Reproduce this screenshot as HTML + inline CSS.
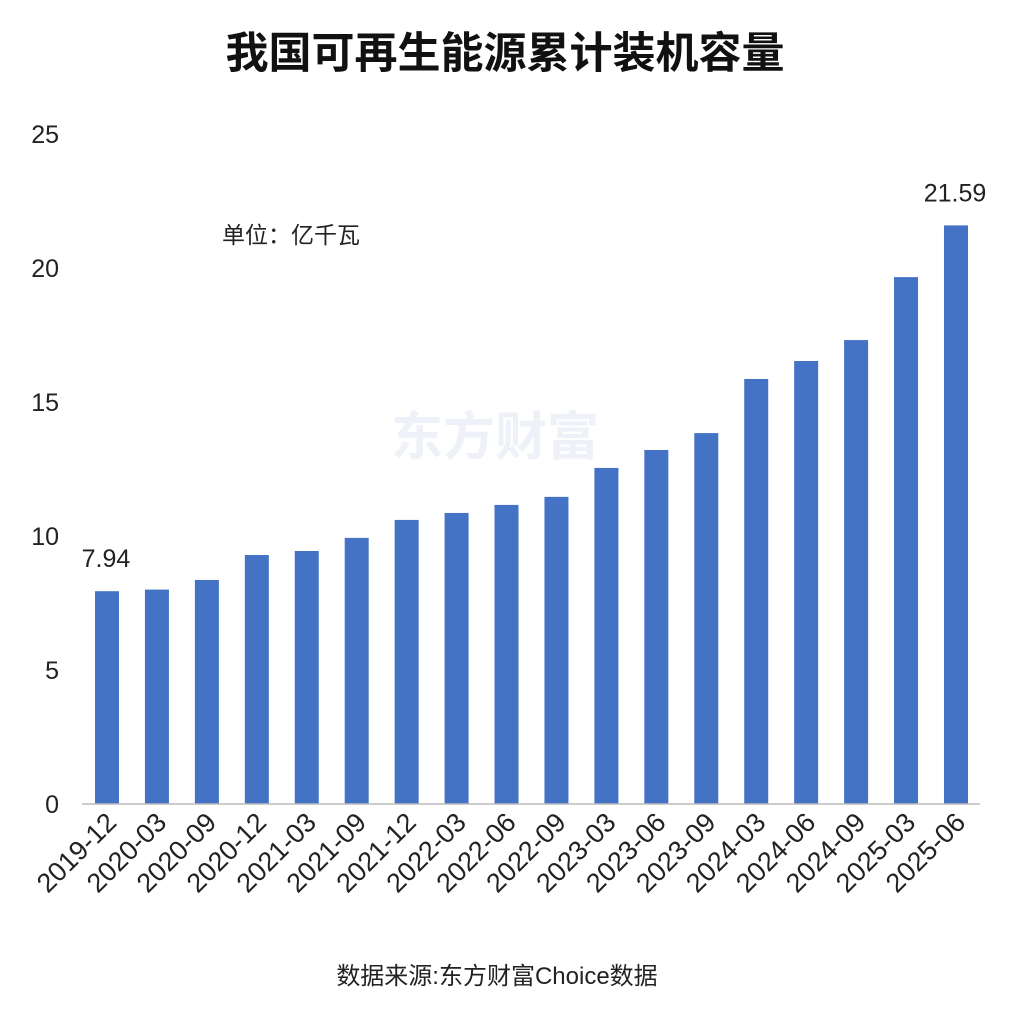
<!DOCTYPE html>
<html><head><meta charset="utf-8">
<style>
body{margin:0;background:#fff;}
svg text{font-family:"Liberation Sans","Noto Sans CJK SC",sans-serif;}
</style></head>
<body>
<svg width="1010" height="1028" viewBox="0 0 1010 1028" xmlns="http://www.w3.org/2000/svg">
<rect width="1010" height="1028" fill="#fff"/>
<text x="505" y="68" text-anchor="middle" font-size="43" font-weight="bold" fill="#111">我国可再生能源累计装机容量</text>
<text x="222" y="243" font-size="23" fill="#222">单位：亿千瓦</text>
<text x="495" y="455" text-anchor="middle" font-size="52" font-weight="bold" fill="#eef2f8">东方财富</text>
<g id="yaxis"></g>
<g id="bars"></g>
<g id="xlabels"></g>
<line x1="82" y1="804" x2="980" y2="804" stroke="#bbb" stroke-width="1.5"/>
<text x="497" y="984" text-anchor="middle" font-size="24" fill="#222">数据来源:东方财富Choice数据</text>
</svg>
<script>
const categories=["2019-12","2020-03","2020-09","2020-12","2021-03","2021-09","2021-12","2022-03","2022-06","2022-09","2023-03","2023-06","2023-09","2024-03","2024-06","2024-09","2025-03","2025-06"];
const values=[7.94,8.0,8.36,9.29,9.44,9.93,10.6,10.86,11.16,11.46,12.54,13.21,13.84,15.86,16.53,17.31,19.66,21.59];
const yTicks=[0,5,10,15,20,25];
const labeled={0:"7.94",17:"21.59"};
const NS="http://www.w3.org/2000/svg";
const y=v=>804-v*26.8;
const x=i=>107+i*49.94;
function mk(tag,attrs,parent,text){const e=document.createElementNS(NS,tag);for(const k in attrs)e.setAttribute(k,attrs[k]);if(text!==undefined)e.textContent=text;document.getElementById(parent).appendChild(e);return e;}
yTicks.forEach(t=>{
  const e=mk('text',{x:59,y:y(t)+9,'text-anchor':'end','font-size':25,fill:'#222'},'yaxis',String(t));
  
  
});
values.forEach((v,i)=>{
  const r=mk('rect',{x:x(i)-12,y:y(v),width:24,height:804-y(v),fill:'#4472c4'},'bars');
  
  
  if(labeled[i]){
    const t=mk('text',{x:x(i)-1,y:y(v)-24,'text-anchor':'middle','font-size':25,fill:'#222'},'bars',labeled[i]);
    
    
  }
  const l=mk('text',{x:x(i)+11,y:824,'text-anchor':'end','font-size':27,fill:'#222',transform:'rotate(-45 '+(x(i)+11)+' 824)'},'xlabels',categories[i]);
  
  
});
</script>
</body></html>
